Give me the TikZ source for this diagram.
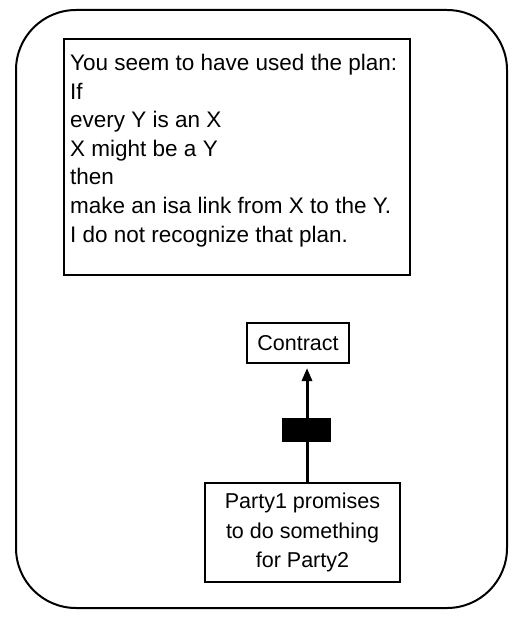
\documentclass[tikz,border=0pt]{standalone}
\usepackage{fontspec}
\setmainfont{Liberation Sans}
\usetikzlibrary{arrows.meta}
\begin{document}
\begin{tikzpicture}[x=1pt,y=-1pt,
  frame/.style={draw=black,line width=2pt,rounded corners=60pt},
  msgbox/.style={draw=black,line width=2pt},
  concept/.style={draw=black,line width=2.2pt,inner sep=3pt,font=\fontsize{21.5}{29.5}\selectfont,align=center},
  linklabel/.style={fill=black,draw=black,minimum width=48pt,minimum height=23pt,inner sep=0pt},
  isalink/.style={line width=3pt,-{Triangle[length=13pt,width=10pt]},shorten >=5pt}]
\useasboundingbox (0,0) rectangle (513,617);
% outer window
\draw[frame] (16,10) rectangle (507,608);
% message panel
\draw[msgbox] (64,39) rectangle (410,275);
\node[anchor=north west,align=left,inner sep=0pt,
      font=\fontsize{22.5}{28.6}\selectfont] (msg) at (70,54)
  {You seem to have used the plan:\\
   If\\
   every Y is an X\\
   X might be a Y\\
   then\\
   make an isa link from X to the Y.\\
   I do not recognize that plan.};
% network
\node[concept,minimum width=102pt,minimum height=40pt] (contract) at (298,343) {Contract};
\node[concept,minimum width=195pt,minimum height=99pt] (party) at (302.5,532.5)
  {Party1 promises\\to do something\\for Party2};
\coordinate (head) at (307,363);
\draw[isalink] (party.north -| head) -- (head);
\node[linklabel] (isa) at (306,430) {};
\end{tikzpicture}
\end{document}
